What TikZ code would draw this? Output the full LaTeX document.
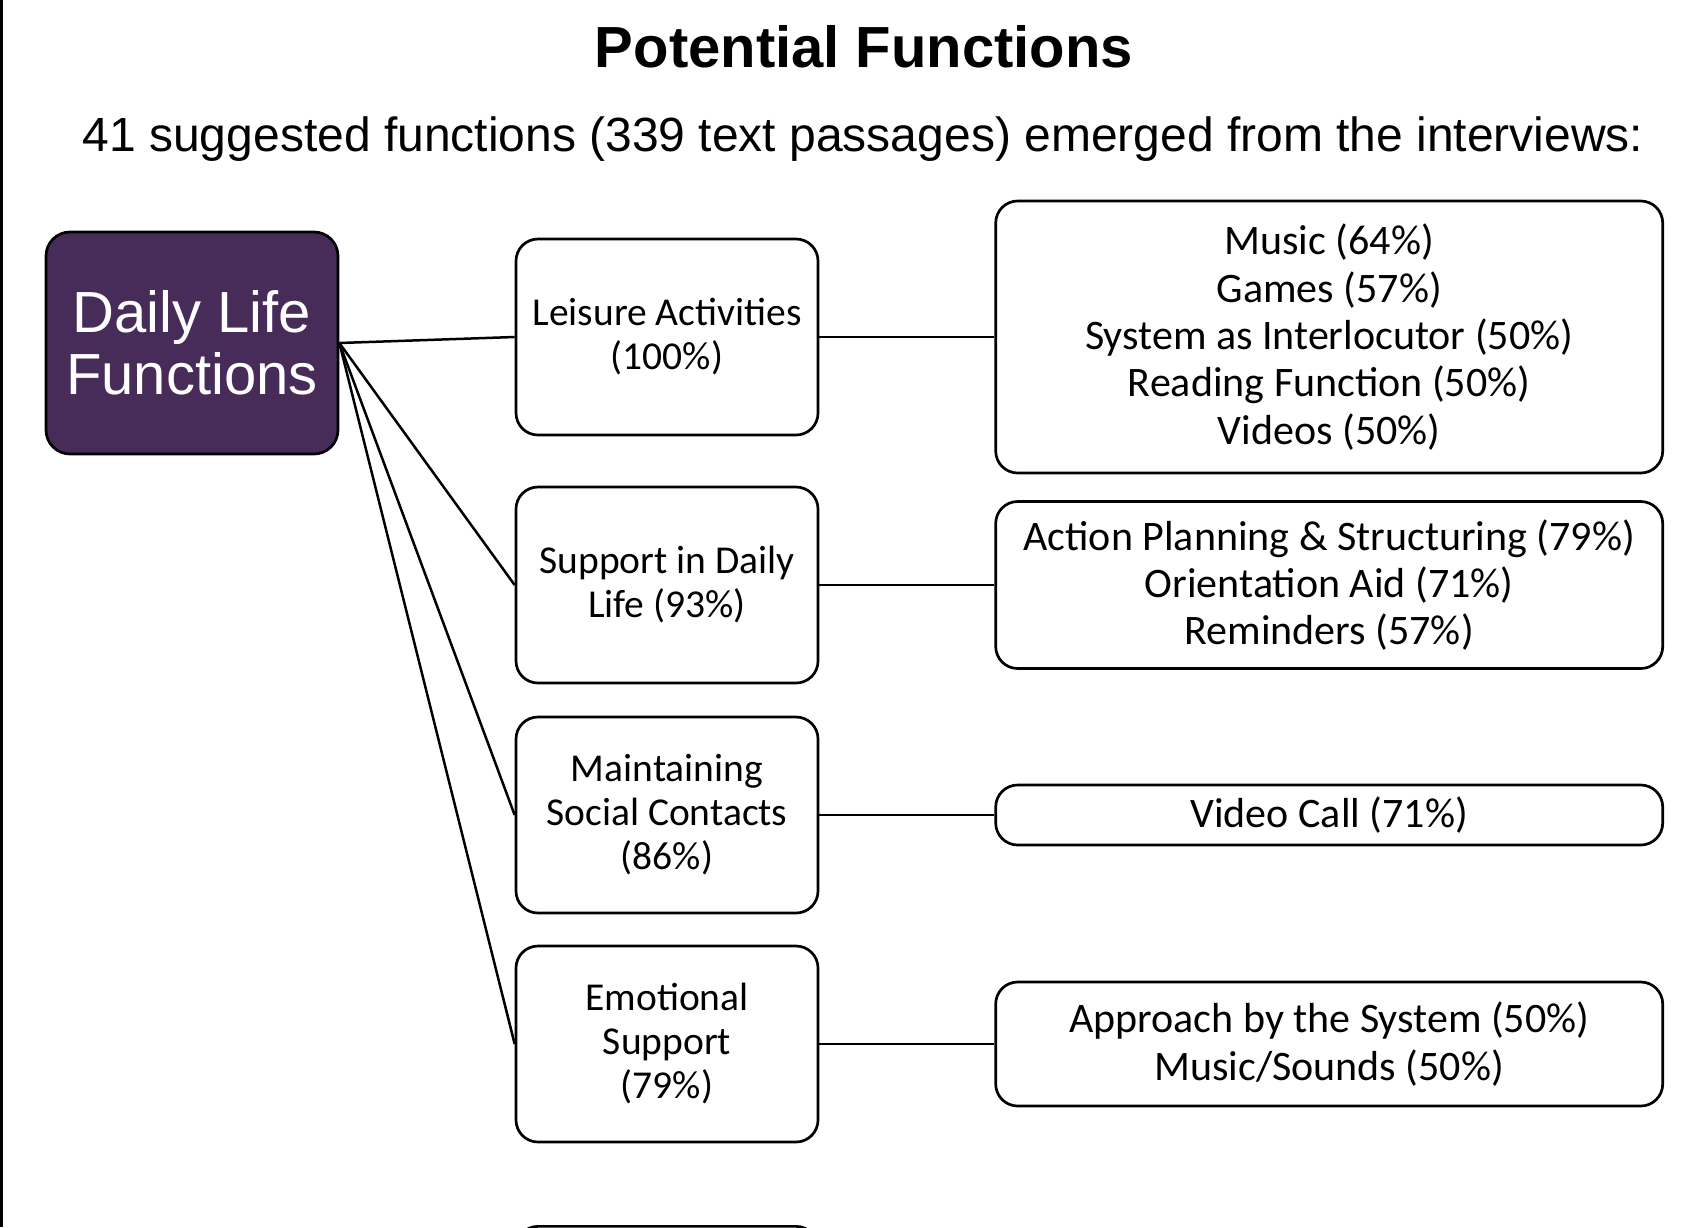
\documentclass[tikz,border=0pt]{standalone}
\usepackage{fontspec}
\setmainfont{Carlito}
\newfontfamily\arialfont{Liberation Sans}
\usepackage{xcolor}
\usepackage{tikz}
\usetikzlibrary{positioning}
\definecolor{lifepurple}{RGB}{71,44,89}

\begin{document}
\begin{tikzpicture}[
  x=1pt, y=-1pt,
  node distance=175pt,
  main/.style={rectangle, rounded corners=24pt, draw, line width=2.7pt, fill=lifepurple, text=white, minimum width=292pt, minimum height=222pt, align=center, font=\arialfont\fontsize{58}{62}\selectfont},
  cat/.style={rectangle, rounded corners=22pt, draw, line width=2.7pt, minimum width=302pt, minimum height=196pt, align=center, font=\fontsize{39.5}{44}\selectfont},
  items/.style={rectangle, rounded corners=22pt, draw, line width=2.7pt, minimum width=667pt, align=center, font=\fontsize{42}{47.3}\selectfont},
  link/.style={line width=2.5pt}
]
  \useasboundingbox (0,0) rectangle (1694,1227);
  \fill (0,0) rectangle (3,1227);

  \node[anchor=base, font=\arialfont\bfseries\fontsize{58}{70}\selectfont] (title) at (864,67) {Potential Functions};
  \node[anchor=base, font=\arialfont\fontsize{48}{56}\selectfont] (intro) at (863,151) {41 suggested functions (339 text passages) emerged from the interviews:};

  \node[main] (daily) at (192,343) {Daily Life\\Functions};

  \node[cat] (leisure) at (667,337) {Leisure Activities\\(100\%)};
  \node[cat] (support) at (667,585) {Support in Daily\\Life (93\%)};
  \node[cat] (social) at (667,815) {Maintaining\\Social Contacts\\(86\%)};
  \node[cat] (emotion) at (667,1044) {Emotional\\Support\\(79\%)};
  \node[cat, anchor=north] (more) at (667,1225) {};

  \node[items, minimum height=272pt, right=of leisure] (leisurelist) {Music (64\%)\\Games (57\%)\\System as Interlocutor (50\%)\\Reading Function (50\%)\\Videos (50\%)};
  \node[items, minimum height=167pt, right=of support] (supportlist) {Action Planning \& Structuring (79\%)\\Orientation Aid (71\%)\\Reminders (57\%)};
  \node[items, minimum height=60pt, right=of social] (sociallist) {Video Call (71\%)};
  \node[items, minimum height=124pt, right=of emotion] (emotionlist) {Approach by the System (50\%)\\Music/Sounds (50\%)};

  \draw[link] (daily.east) -- (leisure.west);
  \draw[link] (daily.east) -- (support.west);
  \draw[link] (daily.east) -- (social.west);
  \draw[link] (daily.east) -- (emotion.west);

  \draw[link] (leisure.east) -- (leisurelist.west);
  \draw[link] (support.east) -- (supportlist.west);
  \draw[link] (social.east) -- (sociallist.west);
  \draw[link] (emotion.east) -- (emotionlist.west);
\end{tikzpicture}
\end{document}
